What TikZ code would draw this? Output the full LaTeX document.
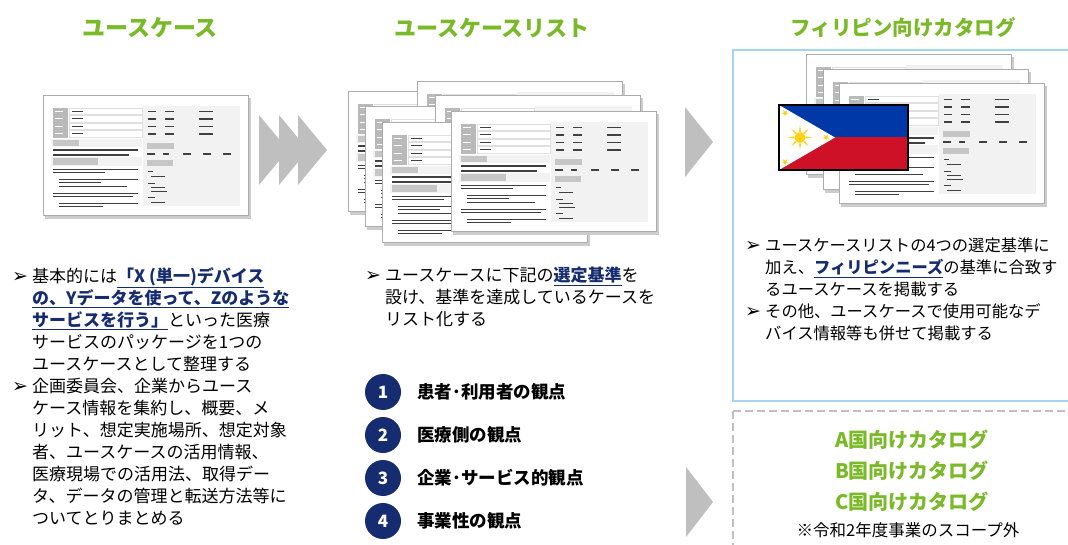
\documentclass[tikz,border=0pt]{standalone}
\usepackage{fontspec}
\setmainfont{Noto Sans CJK JP}
\newfontfamily\symfont{DejaVu Sans}
\usepackage{tikz}
\usetikzlibrary{positioning}
\usepackage{xcolor}

\definecolor{headgreen}{RGB}{122,186,40}
\definecolor{navy}{RGB}{22,44,112}
\definecolor{panelblue}{RGB}{168,210,242}
\definecolor{arrowgray}{RGB}{190,191,190}
\definecolor{flagblue}{RGB}{0,56,168}
\definecolor{flagred}{RGB}{206,17,38}
\definecolor{flagyellow}{RGB}{252,209,22}

\newcommand{\bul}{\makebox[20pt][l]{\symfont\fontsize{19}{19}\selectfont ➢}}
\newcommand{\ind}{\hspace*{20pt}}
\newcommand{\keyword}[1]{{\color{navy}\underline{\textbf{#1}}}}

\tikzset{
  bodytext/.style={anchor=north west, inner sep=0pt, align=left, font=\fontsize{17}{22}\selectfont},
  headtext/.style={inner sep=0pt, text=headgreen},
  catalogtext/.style={inner sep=0pt, text=headgreen, font=\fontsize{20}{20}\selectfont\bfseries},
  numdot/.style={circle, fill=navy, minimum size=36pt, inner sep=0pt, text=white, font=\fontsize{17}{17}\selectfont\bfseries},
  critext/.style={anchor=west, inner sep=0pt, font=\fontsize{17.5}{17.5}\selectfont\bfseries},
  sheetline/.style={black!75, line width=1.3pt},
  sheetbox/.style={gray!45}
}

% one case sheet, top left corner at (#1,#2)
\newcommand{\sheet}[2]{%
\begin{scope}[shift={(#1,#2)}]
\fill[gray!40] (2,2.5) rectangle (207.5,123);
\draw[gray!65, line width=1pt, fill=white] (0,0) rectangle (205,120);

% header rows
\fill[gray!10] (100,10) rectangle (197,110);
\fill[gray!55] (10,12) rectangle (25,42);
\foreach \r in {12,19.5,27,34.5}{
  \draw[gray!25, fill=white] (26,\r) rectangle (99,\r+6.5);
  \draw[sheetline] (29,\r+3.25) -- (40,\r+3.25);
  \draw[white, line width=0.8pt] (12,\r+3.25) -- (20,\r+3.25);
  \draw[sheetline] (105,\r+3.5) -- (113,\r+3.5) (122,\r+3.5) -- (131,\r+3.5) (156,\r+3.5) -- (170,\r+3.5);
}

% left column
\fill[gray!10] (8,43) rectangle (99,51);
\fill[sheetbox] (10,44) rectangle (36,50);
\draw[sheetline] (10,54) -- (95,54) (10,59) -- (86,59);
\fill[gray!10] (8,61) rectangle (99,70);
\fill[sheetbox] (10,62) rectangle (55,69);
\draw[sheetline, line width=0.9pt] (10,73) -- (95,73) (10,76) -- (62,76) (16,83) -- (95,83) (16,86) -- (58,86)
  (16,90) -- (84,90) (10,97) -- (95,97) (10,100) -- (90,100) (16,107) -- (95,107) (16,110) -- (60,110);

% right column
\fill[sheetbox] (104,47) rectangle (131,53);
\draw[sheetline] (104,58) -- (112,58) (120,58) -- (126,58) (140,58) -- (148,58) (160,58) -- (168,58) (180,58) -- (188,58);
\fill[sheetbox] (104,64) rectangle (130,70);
\draw[sheetline, line width=0.9pt] (105,75) -- (110,75) (108,80) -- (122,80) (105,87) -- (112,87) (108,91) -- (122,91)
  (108,95) -- (124,95) (105,101) -- (112,101) (108,106) -- (122,106);
\end{scope}}

% small flag star at (#1,#2)
\newcommand{\flagstar}[2]{%
\fill[flagyellow] (#1,#2) +(90:3.4) -- +(126:1.4) -- +(162:3.4) -- +(198:1.4) -- +(234:3.4) -- +(270:1.4)
  -- +(306:3.4) -- +(342:1.4) -- +(18:3.4) -- +(54:1.4) -- cycle;}

\begin{document}
\begin{tikzpicture}[x=1pt, y=-1pt]

\useasboundingbox (0,0) rectangle (1068,545);
\fill[white] (0,0) rectangle (1068,545);


% headings
\node[headtext, font=\fontsize{23}{23}\selectfont\bfseries] (usecasehead) at (150,28) {ユースケース};
\node[headtext, font=\fontsize{22}{22}\selectfont\bfseries] (listhead) at (492,28) {ユースケースリスト};
\node[headtext, font=\fontsize{20.5}{20.5}\selectfont\bfseries] (cataloghead) at (903,28) {フィリピン向けカタログ};


% case sheets
\sheet{43}{96}

\sheet{348}{92}
\sheet{417}{82}
\sheet{365}{107}
\sheet{435}{96}
\sheet{382}{123}
\sheet{451}{112}


% catalog panel
\draw[panelblue, line width=1.2pt] (733,50) rectangle (1080,401);
\draw[gray!50, line width=2.2pt, dash pattern=on 8pt off 4pt] (733,411) rectangle (1080,560);

\sheet{806}{55}
\sheet{823}{70}
\sheet{839}{84}

% flag
{
\fill[flagblue] (779,105) rectangle (908,137.5);
\fill[flagred] (779,137.5) rectangle (908,170);
\fill[white] (779,105) -- (835,137.5) -- (779,170) -- cycle;
\fill[flagyellow] (800,137.5) circle [radius=5.5];
\foreach \a in {0,45,...,315}{
  \fill[flagyellow] (800,137.5) +(\a-10:6) -- +(\a:12.5) -- +(\a+10:6) -- cycle;
}
\flagstar{785}{113}
\flagstar{785}{162}
\flagstar{826}{137.5}
\draw[black, line width=1.5pt] (779,105) rectangle (908,170);
}


% arrows
\fill[arrowgray] (259,115) -- (288,150) -- (259,185) -- cycle;
\fill[arrowgray] (279,115) -- (308,150) -- (279,185) -- cycle;
\fill[arrowgray] (298,115) -- (327,150) -- (298,185) -- cycle;

\fill[arrowgray] (685,107) -- (713,142) -- (685,177) -- cycle;
\fill[arrowgray] (686,467) -- (713,502) -- (686,537) -- cycle;


% texts
\node[bodytext] (usecasetext) at (12,267) {\bul 基本的には\keyword{「X (単一)デバイス}\\
\ind\keyword{の、Yデータを使って、Zのような}\\
\ind\keyword{サービスを行う」}といった医療\\
\ind サービスのパッケージを1つの\\
\ind ユースケースとして整理する\\
\bul 企画委員会、企業からユース\\
\ind ケース情報を集約し、概要、メ\\
\ind リット、想定実施場所、想定対象\\
\ind 者、ユースケースの活用情報、\\
\ind 医療現場での活用法、取得デー\\
\ind タ、データの管理と転送方法等に\\
\ind ついてとりまとめる};

\node[bodytext] (listtext) at (365,267) {\bul ユースケースに下記の\keyword{選定基準}を\\
\ind 設け、基準を達成しているケースを\\
\ind リスト化する};

\node[bodytext, font=\fontsize{16.3}{22}\selectfont] (catalogtext) at (745,238) {\bul ユースケースリストの4つの選定基準に\\
\ind 加え、\keyword{フィリピンニーズ}の基準に合致す\\
\ind るユースケースを掲載する\\
\bul その他、ユースケースで使用可能なデ\\
\ind バイス情報等も併せて掲載する};

\foreach \i/\t in {1/患者･利用者の観点, 2/医療側の観点, 3/企業･サービス的観点, 4/事業性の観点}{
  \node[numdot] (num\i) at (383,349+43*\i) {\i};
  \node[critext, right=16pt of num\i] (crit\i) {\t};
}

\node[catalogtext] (cataloga) at (912,440) {A国向けカタログ};
\node[catalogtext] (catalogb) at (912,471) {B国向けカタログ};
\node[catalogtext] (catalogc) at (912,502) {C国向けカタログ};
\node[inner sep=0pt, font=\fontsize{16.5}{16.5}\selectfont] (scopenote) at (908,530) {※令和2年度事業のスコープ外};

\end{tikzpicture}
\end{document}
